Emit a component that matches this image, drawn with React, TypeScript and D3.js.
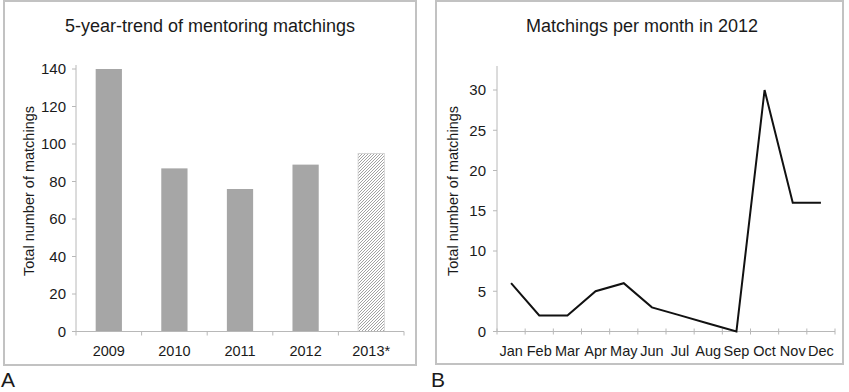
import React from "react";
import * as d3 from "d3";

// panel A: yearly totals
const years = ["2009", "2010", "2011", "2012", "2013*"];
const yearTotals = [140, 87, 76, 89, 95];
const yearTicks = [0, 20, 40, 60, 80, 100, 120, 140];

// panel B: 2012 by month
const months = ["Jan", "Feb", "Mar", "Apr", "May", "Jun", "Jul", "Aug", "Sep", "Oct", "Nov", "Dec"];
const monthCounts = [6, 2, 2, 5, 6, 3, 2, 1, 0, 30, 16, 16];
const monthTicks = [0, 5, 10, 15, 20, 25, 30];

const font = "'Liberation Sans', Arial, sans-serif";
const axisColor = "#b8b8b8";
const textColor = "#1a1a1a";

const App = () => {
  const width = 849;
  const height = 392;

  // A scales
  const xA = d3.scaleBand<string>().domain(years).range([76, 404]);
  const yA = d3.scaleLinear().domain([0, 140]).range([331.5, 69]);
  // B scales
  const xB = d3.scaleBand<string>().domain(months).range([497, 835]);
  const yB = d3.scaleLinear().domain([0, 30]).range([331.5, 90]);

  const line = d3
    .line<number>()
    .x((_, i) => (xB(months[i]) as number) + xB.bandwidth() / 2)
    .y((d) => yB(d));

  return (
    <svg
      width={width}
      height={height}
      style={{ position: "absolute", left: 0, top: 0, background: "#fff" }}
      fontFamily={font}
    >
      <defs>
        <pattern id="hatch" width={3} height={3} patternUnits="userSpaceOnUse">
          <rect width={3} height={3} fill="#fff" />
          <path d="M-1,1 l2,-2 M0,3 l3,-3 M2,4 l2,-2" stroke="#7a7a7a" strokeWidth={0.7} />
        </pattern>
      </defs>

      {/* ---------- Panel A ---------- */}
      <rect x={4} y={1} width={412} height={364} fill="none" stroke="#c2c2c2" strokeWidth={2} />
      <text x={210} y={32} textAnchor="middle" fontSize={18} fill={textColor}>
        5-year-trend of mentoring matchings
      </text>
      <text
        transform="translate(33.5,191) rotate(-90)"
        textAnchor="middle"
        fontSize={14.5}
        fill={textColor}
      >
        Total number of matchings
      </text>
      {yearTicks.map((t) => (
        <g key={t} transform={`translate(76,${yA(t)})`}>
          <line x1={-4} x2={0} stroke={axisColor} />
          <text x={-10} dy="0.35em" textAnchor="end" fontSize={15} fill={textColor}>
            {t}
          </text>
        </g>
      ))}
      {years.map((y, i) => (
        <rect
          key={y}
          x={(xA(y) as number) + xA.bandwidth() * 0.3}
          y={yA(yearTotals[i])}
          width={xA.bandwidth() * 0.4}
          height={yA(0) - yA(yearTotals[i])}
          fill={i === years.length - 1 ? "url(#hatch)" : "#a6a6a6"}
          stroke={i === years.length - 1 ? "#d0d0d0" : "none"}
          strokeWidth={0.8}
        />
      ))}
      <line x1={76} x2={76} y1={65} y2={yA(0)} stroke={axisColor} />
      <line x1={76} x2={404} y1={yA(0)} y2={yA(0)} stroke={axisColor} />
      {[...years.map((y) => xA(y) as number), 404].map((x, i) => (
        <line key={i} x1={x} x2={x} y1={yA(0)} y2={yA(0) + 4} stroke={axisColor} />
      ))}
      {years.map((y) => (
        <text
          key={y}
          x={(xA(y) as number) + xA.bandwidth() / 2}
          y={356}
          textAnchor="middle"
          fontSize={14.5}
          fill={textColor}
        >
          {y}
        </text>
      ))}
      <text x={1} y={387} fontSize={21} fill={textColor}>
        A
      </text>

      {/* ---------- Panel B ---------- */}
      <rect x={436} y={1} width={407} height={363} fill="none" stroke="#c2c2c2" strokeWidth={2} />
      <text x={642} y={32} textAnchor="middle" fontSize={18} fill={textColor}>
        Matchings per month in 2012
      </text>
      <text
        transform="translate(457.5,191) rotate(-90)"
        textAnchor="middle"
        fontSize={14.5}
        fill={textColor}
      >
        Total number of matchings
      </text>
      {monthTicks.map((t) => (
        <g key={t} transform={`translate(497,${yB(t)})`}>
          <line x1={-4} x2={0} stroke={axisColor} />
          <text x={-11} dy="0.35em" textAnchor="end" fontSize={15} fill={textColor}>
            {t}
          </text>
        </g>
      ))}
      <line x1={497} x2={497} y1={66} y2={yB(0)} stroke={axisColor} />
      <line x1={497} x2={835} y1={yB(0)} y2={yB(0)} stroke={axisColor} />
      {[...months.map((m) => xB(m) as number), 835].map((x, i) => (
        <line key={i} x1={x} x2={x} y1={yB(0) - 3} y2={yB(0) + 3} stroke={axisColor} />
      ))}
      {months.map((m) => (
        <text
          key={m}
          x={(xB(m) as number) + xB.bandwidth() / 2}
          y={356}
          textAnchor="middle"
          fontSize={14.5}
          fill={textColor}
        >
          {m}
        </text>
      ))}
      <path d={line(monthCounts) || ""} fill="none" stroke="#111" strokeWidth={2} />
      <text x={431} y={387} fontSize={21} fill={textColor}>
        B
      </text>
    </svg>
  );
};

export default App;
